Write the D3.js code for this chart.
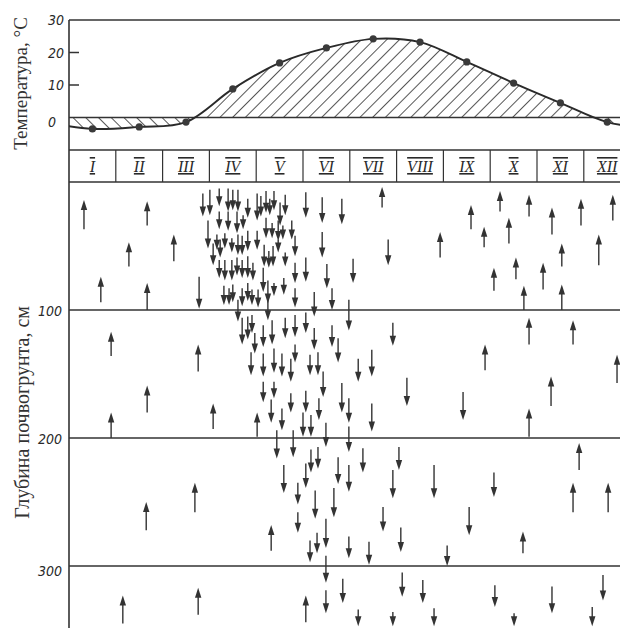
<!DOCTYPE html>
<html>
<head>
<meta charset="utf-8">
<script src="https://cdn.jsdelivr.net/npm/d3@7"></script>
<style>
  body { margin: 0; background: #fff; }
  svg { display: block; }
</style>
</head>
<body>
<div id="chart"></div>
<script>
// months and mean monthly air temperature, °C
const months = ['I', 'II', 'III', 'IV', 'V', 'VI', 'VII', 'VIII', 'IX', 'X', 'XI', 'XII']
const temperature = [-3.5, -2.9, -1.4, 8.8, 16.8, 21.4, 24.2, 23.2, 17.1, 10.6, 4.5, -1.4]
const tempTicks = [0, 10, 20, 30]
const depthTicks = [100, 200, 300]

// moisture movement arrows: [month position, from depth cm, to depth cm]
const arrows0to100 = [
  [0.32, 37, 14], [1.67, 34, 15], [1.28, 66, 47], [2.24, 62, 41], [0.68, 94, 74], [1.67, 100, 79],
  [6.69, 20, 4], [7.93, 59, 39], [8.59, 37, 18], [9.21, 23, 7], [8.87, 51, 35], [9.40, 48, 28],
  [9.83, 27, 10], [10.32, 41, 20], [10.94, 34, 13], [11.62, 30, 10], [11.32, 65, 41], [10.53, 66, 48],
  [9.55, 76, 59], [10.13, 84, 63], [9.08, 85, 67], [9.72, 100, 81], [10.53, 100, 80],
  [2.78, 74, 99], [5.06, 8, 28], [5.41, 12, 32], [5.83, 13, 33], [5.41, 39, 59], [6.82, 45, 65],
  [5.06, 59, 78], [5.51, 64, 83], [6.07, 60, 79], [5.24, 86, 105], [5.62, 83, 100], [5.98, 92, 116],
  [4.83, 63, 79], [4.83, 83, 98],
  [2.86, 9, 27], [3.01, 6, 26], [3.21, 5, 19], [3.40, 5, 23], [3.50, 6, 22], [3.61, 6, 23],
  [3.82, 13, 28], [4.02, 9, 30], [4.10, 11, 27], [4.21, 7, 24], [4.29, 13, 26], [4.38, 7, 22],
  [4.51, 16, 34], [4.62, 10, 26],
  [3.21, 23, 37], [3.40, 23, 38], [3.59, 23, 40], [3.72, 26, 37], [4.21, 28, 44], [4.34, 32, 44],
  [4.47, 30, 46], [4.57, 34, 45], [4.76, 30, 45],
  [2.97, 30, 52], [3.08, 48, 65], [3.16, 41, 53], [3.23, 45, 59], [3.33, 40, 52], [3.48, 44, 55],
  [3.61, 41, 57], [3.70, 42, 57], [3.82, 38, 54], [4.02, 38, 53], [4.17, 49, 66], [4.27, 54, 67],
  [4.36, 50, 66], [4.47, 45, 55], [4.62, 55, 66], [4.83, 42, 58],
  [3.21, 61, 75], [3.33, 61, 77], [3.48, 61, 77], [3.59, 59, 73], [3.70, 61, 75], [3.82, 58, 75],
  [3.93, 63, 77], [4.15, 67, 86],
  [3.31, 81, 96], [3.42, 83, 96], [3.50, 80, 94], [3.70, 83, 97], [3.82, 79, 93], [3.91, 84, 96],
  [4.04, 84, 98], [4.25, 77, 95], [4.38, 79, 89], [4.59, 75, 88]
]
const arrows100to200 = [
  [0.90, 136, 117], [2.76, 148, 127], [1.67, 180, 159], [3.08, 193, 173], [0.90, 200, 180],
  [4.02, 199, 180], [8.89, 147, 127], [9.83, 127, 106], [10.77, 127, 108], [11.71, 157, 135],
  [10.30, 175, 152], [9.83, 199, 177],
  [3.61, 92, 109], [3.70, 106, 127], [3.82, 105, 123], [3.91, 104, 118], [3.97, 118, 134],
  [4.15, 112, 129], [4.25, 92, 108], [4.34, 108, 127], [4.62, 106, 122], [4.83, 104, 121],
  [5.06, 102, 118], [5.24, 114, 131], [5.62, 112, 129], [5.75, 122, 141], [6.92, 110, 128],
  [3.89, 133, 151], [4.15, 134, 152], [4.38, 130, 149], [4.55, 134, 152], [4.74, 138, 156],
  [4.83, 127, 141], [5.15, 135, 151], [5.32, 133, 151], [5.43, 148, 168], [6.18, 138, 156],
  [6.47, 131, 152], [4.15, 156, 172], [4.38, 156, 169], [4.32, 170, 188], [4.55, 177, 194],
  [4.74, 165, 180], [5.06, 163, 180], [5.34, 169, 186], [5.00, 180, 199], [5.17, 182, 199],
  [5.83, 157, 180], [5.98, 169, 188], [6.47, 173, 195], [5.98, 191, 211], [7.22, 153, 175],
  [8.42, 164, 186], [5.49, 188, 207]
]
const arrows200to300 = [
  [1.65, 272, 250], [2.69, 258, 235], [4.32, 288, 268], [10.90, 225, 204], [10.77, 258, 235],
  [11.52, 258, 235], [9.70, 290, 273],
  [4.44, 194, 216], [4.79, 194, 215], [5.17, 209, 227], [5.32, 207, 224], [6.28, 208, 227],
  [4.59, 221, 243], [5.06, 220, 239], [5.75, 215, 236], [5.98, 221, 242], [4.89, 235, 252],
  [5.26, 241, 263], [5.66, 239, 262], [6.71, 254, 273], [4.89, 258, 274], [5.49, 263, 286],
  [5.15, 280, 297], [5.30, 274, 290], [5.98, 277, 294], [6.41, 281, 299], [7.05, 207, 225],
  [6.92, 225, 247], [7.80, 221, 247], [9.08, 227, 246], [8.55, 254, 276], [7.09, 270, 289],
  [8.08, 284, 300]
]
const arrows300plus = [
  [1.15, 345, 323], [2.76, 338, 317], [5.06, 344, 323],
  [5.49, 292, 313], [5.49, 319, 337], [5.85, 310, 329], [6.18, 334, 347], [7.12, 305, 324],
  [7.56, 311, 329], [9.10, 315, 332], [10.32, 316, 337], [11.41, 307, 327], [6.92, 336, 347],
  [7.80, 333, 347], [9.51, 337, 347], [11.18, 332, 347]
]

const width = 620
const height = 628
const ink = '#333'

const svg = d3.select('#chart').append('svg')
  .attr('width', width)
  .attr('height', height)

const x = d3.scaleLinear().domain([0, 12]).range([69, 630.6])
const yTemp = d3.scaleLinear().domain([-10, 30]).range([150, 20])
const yDepth = d3.scaleLinear().domain([0, 350]).range([182, 630])

const left = x(0)
const right = width

// hatching
const defs = svg.append('defs')
function hatch(id, angle) {
  const p = defs.append('pattern')
    .attr('id', id)
    .attr('patternUnits', 'userSpaceOnUse')
    .attr('width', 9)
    .attr('height', 9)
    .attr('patternTransform', `rotate(${angle})`)
  p.append('line')
    .attr('x1', 4.5).attr('y1', 0).attr('x2', 4.5).attr('y2', 9)
    .attr('stroke', '#444').attr('stroke-width', 0.9)
}
hatch('hatchPos', 45)
hatch('hatchNeg', -45)

defs.append('clipPath').attr('id', 'clipPos')
  .append('rect').attr('x', left).attr('y', yTemp(30)).attr('width', right - left).attr('height', yTemp(0) - yTemp(30))
defs.append('clipPath').attr('id', 'clipNeg')
  .append('rect').attr('x', left).attr('y', yTemp(0)).attr('width', right - left).attr('height', yTemp(-10) - yTemp(0))
defs.append('clipPath').attr('id', 'clipPlot')
  .append('rect').attr('x', left).attr('y', 0).attr('width', right - left).attr('height', yTemp(-10))

// temperature curve, wrapped around the year so it runs to both edges
const tempPoints = temperature.map((t, i) => ({ m: i + 0.5, t }))
const cyclic = [{ m: -0.5, t: temperature[11] }, ...tempPoints, { m: 12.5, t: temperature[0] }]

const curve = d3.curveCatmullRom.alpha(0.5)
const area = d3.area()
  .x((d) => x(d.m))
  .y0(yTemp(0))
  .y1((d) => yTemp(d.t))
  .curve(curve)
const line = d3.line()
  .x((d) => x(d.m))
  .y((d) => yTemp(d.t))
  .curve(curve)

svg.append('path').datum(cyclic)
  .attr('d', area).attr('fill', 'url(#hatchPos)').attr('clip-path', 'url(#clipPos)')
svg.append('path').datum(cyclic)
  .attr('d', area).attr('fill', 'url(#hatchNeg)').attr('clip-path', 'url(#clipNeg)')

// frame lines
const hLines = [yTemp(30), yTemp(0), yTemp(-10), yDepth(0), ...depthTicks.map(yDepth)]
svg.append('g').selectAll('line').data(hLines).join('line')
  .attr('x1', left).attr('x2', right)
  .attr('y1', (d) => d).attr('y2', (d) => d)
  .attr('stroke', ink).attr('stroke-width', 1.5)

svg.append('line')
  .attr('x1', left).attr('x2', left)
  .attr('y1', yTemp(30)).attr('y2', height)
  .attr('stroke', ink).attr('stroke-width', 1.6)

// temperature ticks (inside)
svg.append('g').selectAll('line').data([10, 20]).join('line')
  .attr('x1', left).attr('x2', left + 10)
  .attr('y1', (d) => yTemp(d)).attr('y2', (d) => yTemp(d))
  .attr('stroke', ink).attr('stroke-width', 1.5)

svg.append('path').datum(cyclic)
  .attr('d', line).attr('fill', 'none')
  .attr('stroke', '#2a2a2a').attr('stroke-width', 1.9)
  .attr('clip-path', 'url(#clipPlot)')

svg.append('g').selectAll('circle').data(tempPoints).join('circle')
  .attr('cx', (d) => x(d.m)).attr('cy', (d) => yTemp(d.t))
  .attr('r', 3.6).attr('fill', '#3a3a3a')

// month strip
svg.append('g').selectAll('line').data(d3.range(1, 13)).join('line')
  .attr('x1', (d) => x(d)).attr('x2', (d) => x(d))
  .attr('y1', yTemp(-10)).attr('y2', yDepth(0))
  .attr('stroke', ink).attr('stroke-width', 1.2)

svg.append('g').selectAll('text').data(months).join('text')
  .attr('x', (d, i) => x(i + 0.5))
  .attr('y', (yTemp(-10) + yDepth(0)) / 2 + 6)
  .attr('text-anchor', 'middle')
  .attr('font-family', '"Liberation Serif", serif')
  .attr('font-style', 'italic')
  .attr('font-size', 16)
  .attr('fill', '#2a2a2a')
  .style('text-decoration', 'underline overline')
  .text((d) => d)

// tick labels
const tickFont = '"DejaVu Sans Condensed", "Liberation Sans Narrow", "Liberation Sans", sans-serif'
svg.append('g').selectAll('text').data(tempTicks).join('text')
  .attr('x', 48)
  .attr('y', (d) => yTemp(d) + (d === 0 ? 9 : 5))
  .attr('font-family', tickFont).attr('font-style', 'italic').attr('font-size', 14)
  .attr('fill', '#2a2a2a')
  .text((d) => d)

svg.append('g').selectAll('text').data(depthTicks).join('text')
  .attr('x', 62)
  .attr('y', (d) => yDepth(d) + (d === 300 ? 10 : 6))
  .attr('text-anchor', 'end')
  .attr('font-family', tickFont).attr('font-style', 'italic').attr('font-size', 14)
  .attr('fill', '#2a2a2a')
  .text((d) => d)

// axis titles
svg.append('text')
  .attr('transform', `translate(27, ${yTemp(0) - 34}) rotate(-90)`)
  .attr('text-anchor', 'middle')
  .attr('font-family', '"Liberation Serif", serif')
  .attr('font-size', 19).attr('fill', '#333')
  .text('Температура, °С')

svg.append('text')
  .attr('transform', `translate(29, ${yDepth(180)}) rotate(-90)`)
  .attr('text-anchor', 'middle')
  .attr('font-family', '"Liberation Serif", serif')
  .attr('font-size', 20).attr('fill', '#333')
  .text('Глубина почвогрунта, см')

// arrows
const allArrows = [...arrows0to100, ...arrows100to200, ...arrows200to300, ...arrows300plus]
const headLen = 10
const headHalf = 3.2
const ag = svg.append('g')
allArrows.forEach(([m, from, to]) => {
  const ax = x(m)
  const y1 = yDepth(from)
  const y2 = yDepth(to)
  const dir = y2 > y1 ? 1 : -1
  ag.append('line')
    .attr('x1', ax).attr('x2', ax)
    .attr('y1', y1).attr('y2', y2 - dir * (headLen - 2))
    .attr('stroke', ink).attr('stroke-width', 1.4)
  ag.append('path')
    .attr('d', `M${ax},${y2} L${ax - headHalf},${y2 - dir * headLen} L${ax + headHalf},${y2 - dir * headLen} Z`)
    .attr('fill', ink)
})
</script>
</body>
</html>
